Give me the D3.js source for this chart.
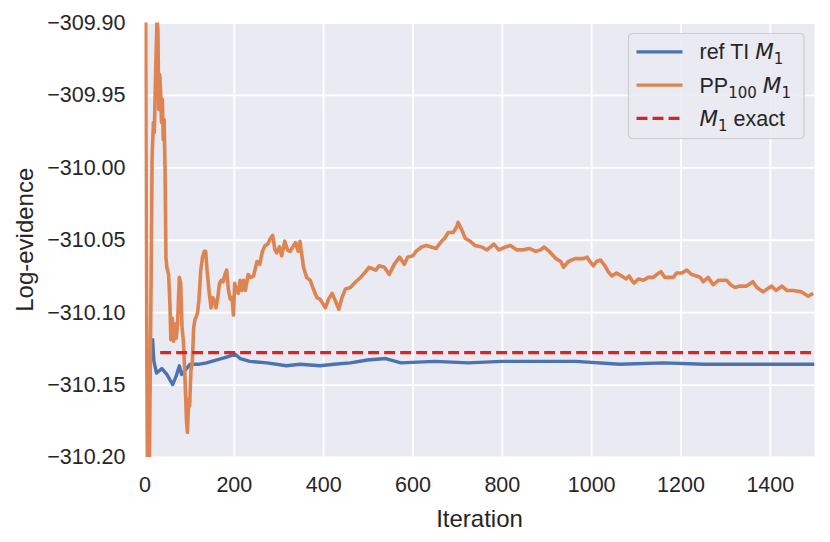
<!DOCTYPE html>
<html>
<head>
<meta charset="utf-8">
<script src="https://cdn.jsdelivr.net/npm/d3@7"></script>
<style>
  body { margin: 0; background: #fff; }
  text { font-family: 'Liberation Sans', Arial, sans-serif; fill: #262626; }
</style>
</head>
<body>
<script>
// tick values
const xTicks = [0, 200, 400, 600, 800, 1000, 1200, 1400];
const yTicks = [-310.2, -310.15, -310.1, -310.05, -310.0, -309.95, -309.9];

// ref TI M1 (blue)
const refIter = [18, 21, 27, 39, 50, 63, 71, 78, 83, 94, 102, 120, 139, 162, 184, 203, 214, 236, 274, 318,
  348, 393, 424, 461, 499, 540, 574, 650, 725, 800, 876, 966, 1064, 1162, 1253, 1388, 1500];
const refVal = [-310.118, -310.134, -310.142, -310.139, -310.143, -310.150, -310.144, -310.137, -310.143, -310.139,
  -310.136, -310.136, -310.135, -310.133, -310.131, -310.129, -310.132, -310.134, -310.135, -310.137,
  -310.136, -310.137, -310.136, -310.135, -310.133, -310.132, -310.135, -310.134, -310.135, -310.134,
  -310.134, -310.134, -310.136, -310.135, -310.136, -310.136, -310.136];

// PP100 M1 (orange)
const ppIter = [0, 4, 8, 15, 17, 20, 22, 25, 28, 30, 32, 34, 36, 38, 40, 42, 44, 46, 48, 50,
  54, 57, 59, 62, 65, 68, 71, 74, 78, 81, 84, 87, 90, 94, 96, 99, 101, 104, 107, 110,
  113, 116, 119, 122, 126, 130, 134, 137, 140, 145, 149, 153, 156, 160, 164, 168, 172, 176, 180, 184,
  188, 192, 196, 199, 202, 206, 210, 214, 218, 222, 226, 232, 238, 244, 252, 258, 264, 270, 276, 282,
  287, 292, 296, 302, 307, 314, 320, 326, 332, 338, 344, 348, 356, 363, 371, 378, 386, 393, 405, 412,
  420, 427, 435, 442, 450, 461, 473, 484, 495, 503, 510, 518, 525, 537, 548, 559, 571, 582, 589, 601,
  608, 620, 631, 642, 653, 665, 672, 680, 691, 699, 702, 710, 718, 729, 740, 755, 767, 782, 793, 808,
  819, 834, 846, 861, 876, 887, 895, 906, 921, 932, 938, 949, 964, 982, 991, 997, 1005, 1012, 1021, 1031,
  1038, 1046, 1057, 1068, 1078, 1085, 1091, 1096, 1106, 1117, 1128, 1139, 1147, 1156, 1165, 1173, 1184, 1191, 1203, 1214,
  1225, 1236, 1244, 1251, 1262, 1273, 1285, 1296, 1303, 1312, 1322, 1333, 1348, 1362, 1371, 1385, 1394, 1404, 1414, 1427,
  1438, 1453, 1471, 1486, 1497];
const ppVal = [-309.60, -310.053, -310.30, -310.071, -309.993, -309.969, -309.976, -309.933, -309.898, -309.905,
  -309.960, -309.936, -309.947, -309.969, -309.953, -309.981, -309.967, -310.002, -310.062, -310.069,
  -310.074, -310.095, -310.119, -310.104, -310.120, -310.108, -310.118, -310.108, -310.076, -310.080,
  -310.110, -310.120, -310.140, -310.175, -310.183, -310.160, -310.165, -310.140, -310.135, -310.111,
  -310.105, -310.103, -310.100, -310.091, -310.071, -310.062, -310.058, -310.058, -310.071, -310.087,
  -310.097, -310.090, -310.092, -310.097, -310.090, -310.080, -310.078, -310.079, -310.074, -310.071,
  -310.085, -310.091, -310.090, -310.102, -310.080, -310.085, -310.087, -310.078, -310.085, -310.078,
  -310.085, -310.074, -310.076, -310.075, -310.065, -310.067, -310.058, -310.054, -310.053, -310.049,
  -310.047, -310.057, -310.059, -310.055, -310.061, -310.051, -310.057, -310.058, -310.055, -310.052,
  -310.058, -310.051, -310.069, -310.076, -310.078, -310.084, -310.090, -310.091, -310.097, -310.091,
  -310.087, -310.092, -310.098, -310.090, -310.084, -310.083, -310.079, -310.076, -310.072, -310.069,
  -310.070, -310.071, -310.068, -310.069, -310.074, -310.067, -310.062, -310.067, -310.062, -310.061,
  -310.058, -310.055, -310.054, -310.055, -310.056, -310.051, -310.049, -310.045, -310.045, -310.041,
  -310.038, -310.043, -310.049, -310.051, -310.054, -310.055, -310.057, -310.053, -310.057, -310.055,
  -310.054, -310.057, -310.057, -310.056, -310.058, -310.057, -310.055, -310.058, -310.063, -310.065,
  -310.069, -310.065, -310.063, -310.063, -310.062, -310.065, -310.068, -310.065, -310.064, -310.068,
  -310.072, -310.075, -310.073, -310.075, -310.077, -310.075, -310.078, -310.080, -310.077, -310.078,
  -310.076, -310.076, -310.074, -310.072, -310.076, -310.076, -310.076, -310.073, -310.073, -310.071,
  -310.074, -310.075, -310.076, -310.079, -310.076, -310.081, -310.078, -310.078, -310.078, -310.081,
  -310.083, -310.082, -310.082, -310.079, -310.083, -310.086, -310.084, -310.082, -310.085, -310.082,
  -310.085, -310.085, -310.086, -310.089, -310.087];

// M1 exact (red dashed)
const exactIter = [35, 1500];
const exactVal = [-310.128, -310.128];

const w = 830,
  h = 542;
const margin = { top: 22.5, right: 15.5, bottom: 85, left: 144.5 };
const innerW = w - margin.left - margin.right,
  innerH = h - margin.top - margin.bottom;

const blue = '#4c72b0',
  orange = '#dd8452',
  red = '#d62728';

const svg = d3
  .select('body')
  .append('svg')
  .attr('width', w)
  .attr('height', h);

const g = svg.append('g').attr('transform', `translate(${margin.left},${margin.top})`);

const xScale = d3.scaleLinear().domain([0, 1500]).range([0, innerW]);
const yScale = d3.scaleLinear().domain([-310.2, -309.9]).range([innerH, 0]);

g.append('rect')
  .attr('width', innerW)
  .attr('height', innerH)
  .attr('fill', '#eaeaf2');

svg
  .append('defs')
  .append('clipPath')
  .attr('id', 'clip')
  .append('rect')
  .attr('width', innerW)
  .attr('height', innerH);

const xAxis = d3
  .axisBottom(xScale)
  .tickValues(xTicks)
  .tickSize(-innerH)
  .tickPadding(20)
  .tickFormat(d3.format('d'));
const yAxis = d3
  .axisLeft(yScale)
  .tickValues(yTicks)
  .tickSize(-innerW)
  .tickPadding(19)
  .tickFormat(d3.format('.2f'));

const gx = g.append('g').attr('transform', `translate(0,${innerH})`).call(xAxis);
const gy = g.append('g').call(yAxis);

[gx, gy].forEach(a => {
  a.select('.domain').remove();
  a.selectAll('line').attr('stroke', '#fff').attr('stroke-width', 1.8);
  a.selectAll('text')
    .attr('font-size', 21.5)
    .attr('fill', '#262626')
    .style('font-family', "'Liberation Sans', Arial, sans-serif");
});

const line = d3
  .line()
  .x(d => xScale(d[0]))
  .y(d => yScale(d[1]));

const plot = g.append('g').attr('clip-path', 'url(#clip)');

plot
  .append('path')
  .datum(d3.zip(refIter, refVal))
  .attr('d', line)
  .attr('fill', 'none')
  .attr('stroke', blue)
  .attr('stroke-width', 3.4)
  .attr('stroke-linejoin', 'round');

plot
  .append('path')
  .datum(d3.zip(ppIter, ppVal))
  .attr('d', line)
  .attr('fill', 'none')
  .attr('stroke', orange)
  .attr('stroke-width', 3.6)
  .attr('stroke-linejoin', 'round');

plot
  .append('path')
  .datum(d3.zip(exactIter, exactVal))
  .attr('d', line)
  .attr('fill', 'none')
  .attr('stroke', red)
  .attr('stroke-width', 3.2)
  .attr('stroke-dasharray', '11,5');

// axis labels
svg
  .append('text')
  .attr('x', margin.left + innerW / 2)
  .attr('y', 527)
  .attr('text-anchor', 'middle')
  .attr('font-size', 24)
  .text('Iteration');

svg
  .append('text')
  .attr('transform', `translate(33,${margin.top + innerH / 2}) rotate(-90)`)
  .attr('text-anchor', 'middle')
  .attr('font-size', 24)
  .text('Log-evidence');

// legend
const legendItems = [
  { color: blue, dash: null, parts: [['ref TI ', 'r'], ['M', 'm'], ['1', 's']] },
  { color: orange, dash: null, parts: [['PP', 'r'], ['100', 's'], [' ', 'r'], ['M', 'm'], ['1', 's']] },
  { color: red, dash: '11,5', parts: [['M', 'm'], ['1', 's'], [' exact', 'r']] }
];

const lg = svg.append('g').attr('transform', 'translate(628.5,33.5)');
lg.append('rect')
  .attr('width', 175.5)
  .attr('height', 105)
  .attr('rx', 4)
  .attr('fill', '#eaeaf2')
  .attr('fill-opacity', 0.9)
  .attr('stroke', '#cccccc')
  .attr('stroke-width', 1.2);

legendItems.forEach((item, i) => {
  const cy = 18.3 + i * 33.3;
  lg.append('line')
    .attr('x1', 8)
    .attr('x2', 54)
    .attr('y1', cy)
    .attr('y2', cy)
    .attr('stroke', item.color)
    .attr('stroke-width', 3.2)
    .attr('stroke-dasharray', item.dash);
  const t = lg
    .append('text')
    .attr('x', 71)
    .attr('y', cy + 7.5)
    .attr('font-size', 21.5);
  let shift = 0;
  item.parts.forEach(p => {
    const want = p[1] === 's' ? 5 : 0;
    const s = t.append('tspan').attr('dy', want - shift).text(p[0]);
    shift = want;
    if (p[1] === 'm') {
      s.style('font-family', "'DejaVu Sans', sans-serif").style('font-style', 'italic');
    } else if (p[1] === 's') {
      s.style('font-family', "'DejaVu Sans', sans-serif").attr('font-size', 15);
    }
  });
});
</script>
</body>
</html>
